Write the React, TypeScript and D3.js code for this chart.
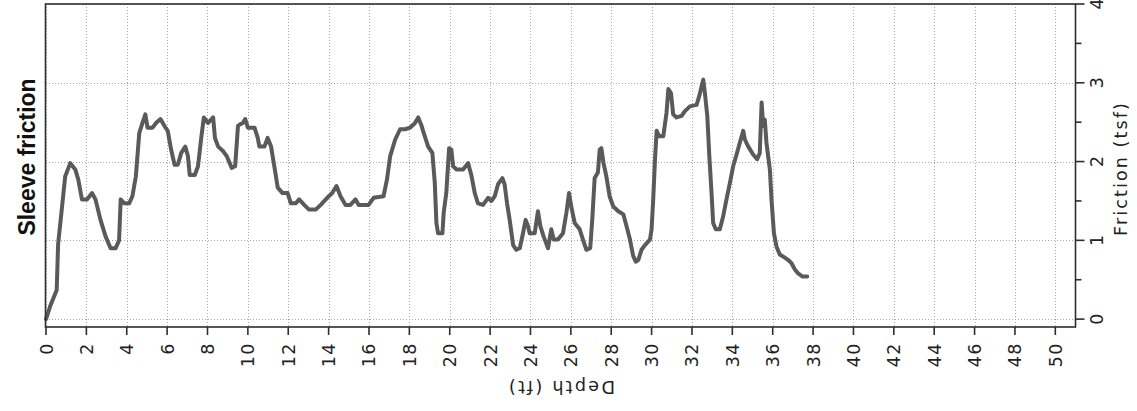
import React from "react";
import * as d3 from "d3";

const depthFt: number[] = [
  0, 0.2, 0.53, 0.6, 0.78, 0.95, 1.2, 1.45, 1.6, 1.78, 2.03, 2.28, 2.45, 2.7, 2.95, 3.2, 3.45, 3.62, 3.7, 3.87,
  4.12, 4.28, 4.45, 4.62, 4.78, 4.92, 5.03, 5.28, 5.45, 5.67, 5.87, 6.03, 6.2, 6.37, 6.53, 6.7, 6.9, 7.03, 7.12, 7.37,
  7.53, 7.7, 7.82, 8.03, 8.28, 8.37, 8.53, 8.78, 8.95, 9.2, 9.37, 9.51, 9.6, 9.75, 9.87, 10, 10.33, 10.49, 10.57, 10.82,
  10.98, 11.15, 11.31, 11.48, 11.72, 11.97, 12.13, 12.38, 12.54, 12.79, 13.03, 13.36, 13.61, 13.93, 14.18, 14.39, 14.59, 14.84, 15.08, 15.33,
  15.49, 15.98, 16.23, 16.72, 16.89, 17.05, 17.3, 17.54, 17.79, 18.03, 18.28, 18.44, 18.61, 18.68, 18.93, 19.14, 19.26, 19.34, 19.42, 19.64,
  19.7, 19.83, 19.97, 20.08, 20.17, 20.33, 20.66, 20.91, 21.07, 21.24, 21.4, 21.65, 21.9, 22.06, 22.23, 22.39, 22.61, 22.72, 22.84, 22.97,
  23.14, 23.3, 23.47, 23.63, 23.76, 23.88, 23.96, 24.21, 24.37, 24.49, 24.65, 24.87, 25.03, 25.15, 25.36, 25.61, 25.78, 25.91, 26.02, 26.19,
  26.44, 26.6, 26.77, 26.96, 27.06, 27.18, 27.34, 27.43, 27.51, 27.62, 27.76, 27.92, 28.1, 28.35, 28.6, 28.76, 28.93, 29.09, 29.22, 29.34,
  29.5, 29.67, 29.92, 30.0, 30.08, 30.17, 30.25, 30.38, 30.58, 30.74, 30.83, 30.96, 31.07, 31.24, 31.49, 31.65, 31.9, 32.23, 32.36, 32.48,
  32.56, 32.64, 32.76, 32.86, 32.97, 33.05, 33.18, 33.38, 33.55, 33.71, 33.88, 34.04, 34.21, 34.37, 34.54, 34.62, 34.79, 35.03, 35.23, 35.36,
  35.45, 35.53, 35.61, 35.69, 35.86, 35.94, 36.06, 36.19, 36.35, 36.6, 36.77, 36.93, 37.1, 37.26, 37.48, 37.71,
];

const frictionTsf: number[] = [
  0, 0.16, 0.37, 0.95, 1.39, 1.81, 1.98, 1.9, 1.77, 1.52, 1.52, 1.6, 1.52, 1.26, 1.05, 0.9, 0.9, 1.0, 1.52, 1.47,
  1.47, 1.56, 1.81, 2.36, 2.49, 2.6, 2.43, 2.43, 2.49, 2.54, 2.45, 2.39, 2.15, 1.96, 1.96, 2.11, 2.19, 2.07, 1.83, 1.83,
  1.94, 2.32, 2.56, 2.49, 2.56, 2.3, 2.19, 2.13, 2.07, 1.92, 1.94, 2.45, 2.47, 2.49, 2.54, 2.43, 2.43, 2.3, 2.19, 2.19,
  2.3, 2.19, 1.94, 1.67, 1.6, 1.6, 1.47, 1.47, 1.52, 1.45, 1.39, 1.39, 1.45, 1.54, 1.6, 1.69, 1.56, 1.45, 1.45, 1.52,
  1.45, 1.45, 1.54, 1.56, 1.77, 2.07, 2.28, 2.41, 2.41, 2.43, 2.49, 2.56, 2.45, 2.39, 2.19, 2.11, 1.73, 1.22, 1.09, 1.09,
  1.35, 1.6, 2.17, 2.15, 1.94, 1.9, 1.9, 1.98, 1.83, 1.6, 1.47, 1.45, 1.54, 1.5, 1.56, 1.71, 1.79, 1.71, 1.47, 1.26,
  0.94, 0.88, 0.9, 1.09, 1.26, 1.18, 1.09, 1.09, 1.37, 1.18, 1.05, 0.9, 1.14, 1.01, 1.01, 1.09, 1.35, 1.6, 1.43, 1.22,
  1.14, 1.01, 0.88, 0.9, 1.26, 1.79, 1.86, 2.15, 2.17, 1.98, 1.81, 1.56, 1.43, 1.37, 1.33, 1.18, 1.01, 0.8, 0.73, 0.75,
  0.88, 0.94, 1.01, 1.14, 1.52, 2.03, 2.39, 2.32, 2.32, 2.62, 2.92, 2.87, 2.6, 2.56, 2.58, 2.64, 2.7, 2.72, 2.83, 2.96,
  3.04, 2.87, 2.58, 2.07, 1.6, 1.22, 1.14, 1.14, 1.31, 1.52, 1.73, 1.94, 2.09, 2.24, 2.39, 2.28, 2.19, 2.09, 2.03, 2.11,
  2.75, 2.45, 2.53, 2.24, 1.9, 1.52, 1.09, 0.92, 0.82, 0.78, 0.75, 0.71, 0.63, 0.58, 0.54, 0.54,
];

const depthTicks: number[] = d3.range(0, 51, 2);
const frictionTicks: number[] = [0, 1, 2, 3, 4];
const frictionMinorTicks: number[] = [0.5, 1.5, 2.5, 3.5];

const titleText = "Sleeve friction";
const xAxisTitle = "Depth (ft)";
const yAxisTitle = "Friction (tsf)";

const W = 1137;
const H = 411;

export default function App() {
  const x = d3.scaleLinear().domain([0, 51]).range([46, 1075.5]);
  const y = d3.scaleLinear().domain([-0.1, 4]).range([327, 4]);

  const points: [number, number][] = depthFt.map((d, i) => [d, frictionTsf[i]]);
  const line = d3
    .line<[number, number]>()
    .x((p) => x(p[0]))
    .y((p) => y(p[1]));

  const x0 = x(0);
  const x1 = x(51);
  const yTop = y(4);
  const yBot = y(-0.1);
  const cx = (x0 + x1) / 2;
  const cy = (yTop + yBot) / 2;

  const tickFont = "DejaVu Sans, Verdana, sans-serif";

  return (
    <svg
      width={W}
      height={H}
      style={{ position: "absolute", left: 0, top: 0, background: "#fff" }}
    >
      <rect x={0} y={0} width={W} height={H} fill="#fff" />
      <g stroke="#a8a8a8" strokeWidth={1} strokeDasharray="1,2">
        {depthTicks.map((d) => (
          <line key={"gx" + d} x1={Math.round(x(d)) + 0.5} x2={Math.round(x(d)) + 0.5} y1={yTop} y2={yBot} />
        ))}
        {frictionTicks.map((f) => (
          <line key={"gy" + f} x1={x0} x2={x1} y1={Math.round(y(f)) + 0.5} y2={Math.round(y(f)) + 0.5} />
        ))}
      </g>
      <path
        d={line(points) || ""}
        fill="none"
        stroke="#5a5a5a"
        strokeWidth={4}
        strokeLinejoin="round"
        strokeLinecap="round"
      />
      <rect x={x0 - 0.5} y={yTop} width={x1 - x0 + 0.5} height={yBot - yTop} fill="none" stroke="#2e2e2e" strokeWidth={1.6} />
      <g stroke="#2e2e2e" strokeWidth={1.6}>
        {depthTicks.map((d) => (
          <line key={"tx" + d} x1={x(d)} x2={x(d)} y1={yBot} y2={yBot + 8} />
        ))}
        {frictionTicks.map((f) => (
          <line key={"ty" + f} x1={x1} x2={x1 + 9} y1={y(f)} y2={y(f)} />
        ))}
        {frictionMinorTicks.map((f) => (
          <line key={"tym" + f} x1={x1} x2={x1 + 6} y1={y(f)} y2={y(f)} />
        ))}
      </g>
      <g fill="#222" fontFamily={tickFont} fontSize={17.5} letterSpacing={1.5}>
        {depthTicks.map((d) => (
          <text
            key={"lx" + d}
            transform={`translate(${x(d) + 6.5},${yBot + 15}) rotate(-90)`}
            textAnchor="end"
          >
            {String(d)}
          </text>
        ))}
      </g>
      <g fill="#222" fontFamily={tickFont} fontSize={17.5}>
        {frictionTicks.map((f) => (
          <text
            key={"ly" + f}
            transform={`translate(${x1 + 27.5},${y(f)}) rotate(-90)`}
            textAnchor="middle"
          >
            {String(f)}
          </text>
        ))}
      </g>
      <text
        transform={`translate(${cx},${381}) rotate(180)`}
        textAnchor="middle"
        fontFamily={tickFont}
        fontSize={17.5}
        letterSpacing={2.3}
        fill="#222"
      >
        {xAxisTitle}
      </text>
      <text
        transform={`translate(${1127},${cy + 3}) rotate(-90)`}
        textAnchor="middle"
        fontFamily={tickFont}
        fontSize={17.5}
        letterSpacing={2.1}
        fill="#222"
      >
        {yAxisTitle}
      </text>
      <text
        transform={`translate(${35},${157}) rotate(-90)`}
        textAnchor="middle"
        fontFamily="Liberation Sans, Arial, sans-serif"
        fontWeight="bold"
        fontSize={23}
        fill="#111"
      >
        {titleText}
      </text>
    </svg>
  );
}
